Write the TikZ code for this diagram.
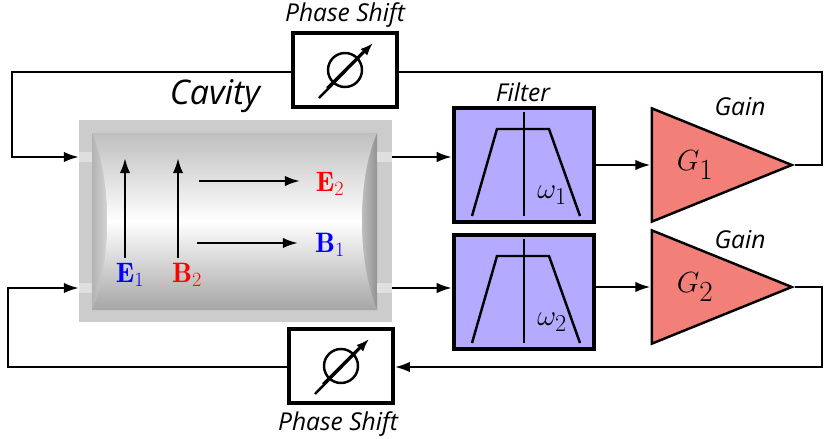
\documentclass[tikz,border=0pt]{standalone}
\usepackage{fontspec}
\setsansfont{Open Sans}
\usetikzlibrary{arrows.meta, positioning, calc, shapes.geometric}
\definecolor{filterblue}{RGB}{180,170,255}
\definecolor{gainred}{RGB}{242,128,120}
\tikzset{
  lbl/.style={font=\sffamily\itshape\fontsize{21}{24}\selectfont},
  big/.style={font=\fontsize{24}{28}\selectfont},
  wire/.style={line width=2.1pt},
  arr/.style={wire, -{Latex[length=13pt, width=9pt]}},
  box/.style={draw, line width=3.5pt, inner sep=0pt, minimum width=42mm, minimum height=34mm},
  amp/.style={draw, line width=2.1pt, fill=gainred, isosceles triangle, isosceles triangle stretches, minimum height=42mm, minimum width=34mm, inner sep=0pt, anchor=apex}
}
\begin{document}
\begin{tikzpicture}[x=0.3mm, y=-0.3mm]
\useasboundingbox (0,0) rectangle (832,438);
	% cavity
\fill[gray!40] (79,120) rectangle (392,322);
\shade[top color=gray!50, bottom color=gray!70, middle color=white] (92,133) .. controls (112,180) and (112,260) .. (92,310) -- (377,310) .. controls (357,260) and (357,180) .. (377,133) -- cycle;
\shade[left color=gray!60, right color=gray!25] (92,133) .. controls (112,180) and (112,260) .. (92,310) -- cycle;
\shade[left color=gray!40, right color=gray!85] (377,133) .. controls (357,180) and (357,260) .. (377,310) -- cycle;
\foreach \y in {157,288} {
  \fill[gray!25] (79,\y-5) rectangle (92,\y+5);
  \fill[gray!25] (377,\y-5) rectangle (392,\y+5);
}
\coordinate (inA) at (79,157);
\coordinate (inB) at (79,288);
\coordinate (outA) at (392,157);
\coordinate (outB) at (392,288);
\node[lbl, font=\sffamily\itshape\fontsize{29}{34}\selectfont] (cav) at (215,96) {Cavity};
\node[big] (e1) at (130,275) {$\color{blue}\mathbf{E}_1$};
\node[big] (b2) at (187,275) {$\color{red}\mathbf{B}_2$};
\node[big] (e2) at (330,184) {$\color{red}\mathbf{E}_2$};
\node[big] (b1) at (330,245) {$\color{blue}\mathbf{B}_1$};
\draw[arr] (125,258) -- (125,158);
\draw[arr] (178,258) -- (178,158);
\draw[arr] (199,181) -- (300,181);
\draw[arr] (197,243) -- (298,243);
	% filters
\foreach \n/\y in {1/165,2/292} {
  \node[box, fill=filterblue] (f\n) at (524,\y) {};
  \draw[wire] ($(f\n.center)+(-52,51)$) -- ($(f\n.center)+(-27,-36)$) -- ($(f\n.center)+(25,-36)$) -- ($(f\n.center)+(56,51)$);
  \draw[line width=1.6pt] ($(f\n.center)+(0,-53)$) -- ($(f\n.center)+(0,51)$);
  \node[font=\fontsize{28}{32}\selectfont] at ($(f\n.center)+(28,30)$) {$\omega_\n$};
}
\node[lbl] (flt) at (523,92) {Filter};
	% gains
\node[amp] (g1) at (795,165) {};
\node[amp] (g2) at (795,287) {};
\node[font=\fontsize{38}{42}\selectfont] at (695,165) {$G_1$};
\node[font=\fontsize{38}{42}\selectfont] at (695,287) {$G_2$};
\node[lbl] (gl1) at (740,107) {Gain};
\node[lbl] (gl2) at (740,240) {Gain};
	% phase shifters
\foreach \n/\x/\y in {1/345/70,2/341/366} {
  \node[draw, line width=3.5pt, minimum width=31mm, minimum height=22mm, inner sep=0pt] (p\n) at (\x,\y) {};
  \draw[wire] (p\n.center) circle (17);
  \draw[wire] ($(p\n.center)+(-18,18)$) -- ($(p\n.center)+(18,-18)$);
  \draw[wire, -{Latex[length=11pt, width=8pt]}] ($(p\n.center)+(-26,28)$) -- ($(p\n.center)+(28,-27)$);
}
\node[lbl] (pl1) at (345,15) {Phase Shift};
\node[lbl] (pl2) at (338,424) {Phase Shift};
	% wiring
\draw[arr] (outA) -- (outA -| f1.west);
\draw[arr] (outB) -- (outB -| f2.west);
\draw[arr] (f1.east |- g1.apex) -- (g1.apex -| g1.left corner);
\draw[arr] (f2.east |- g2.apex) -- (g2.apex -| g2.left corner);
\draw[wire] (g1.apex) -- (822,165) -- (822,72) -- (p1.east |- 0,72);
\draw[arr] (p1.west |- 0,72) -- (12,72) -- (12,157) -- (inA);
\draw[arr] (g2.apex) -- (822,287) -- (822,367) -- (p2.east |- 0,367);
\draw[arr] (p2.west |- 0,367) -- (8,367) -- (8,288) -- (inB);
\end{tikzpicture}
\end{document}
